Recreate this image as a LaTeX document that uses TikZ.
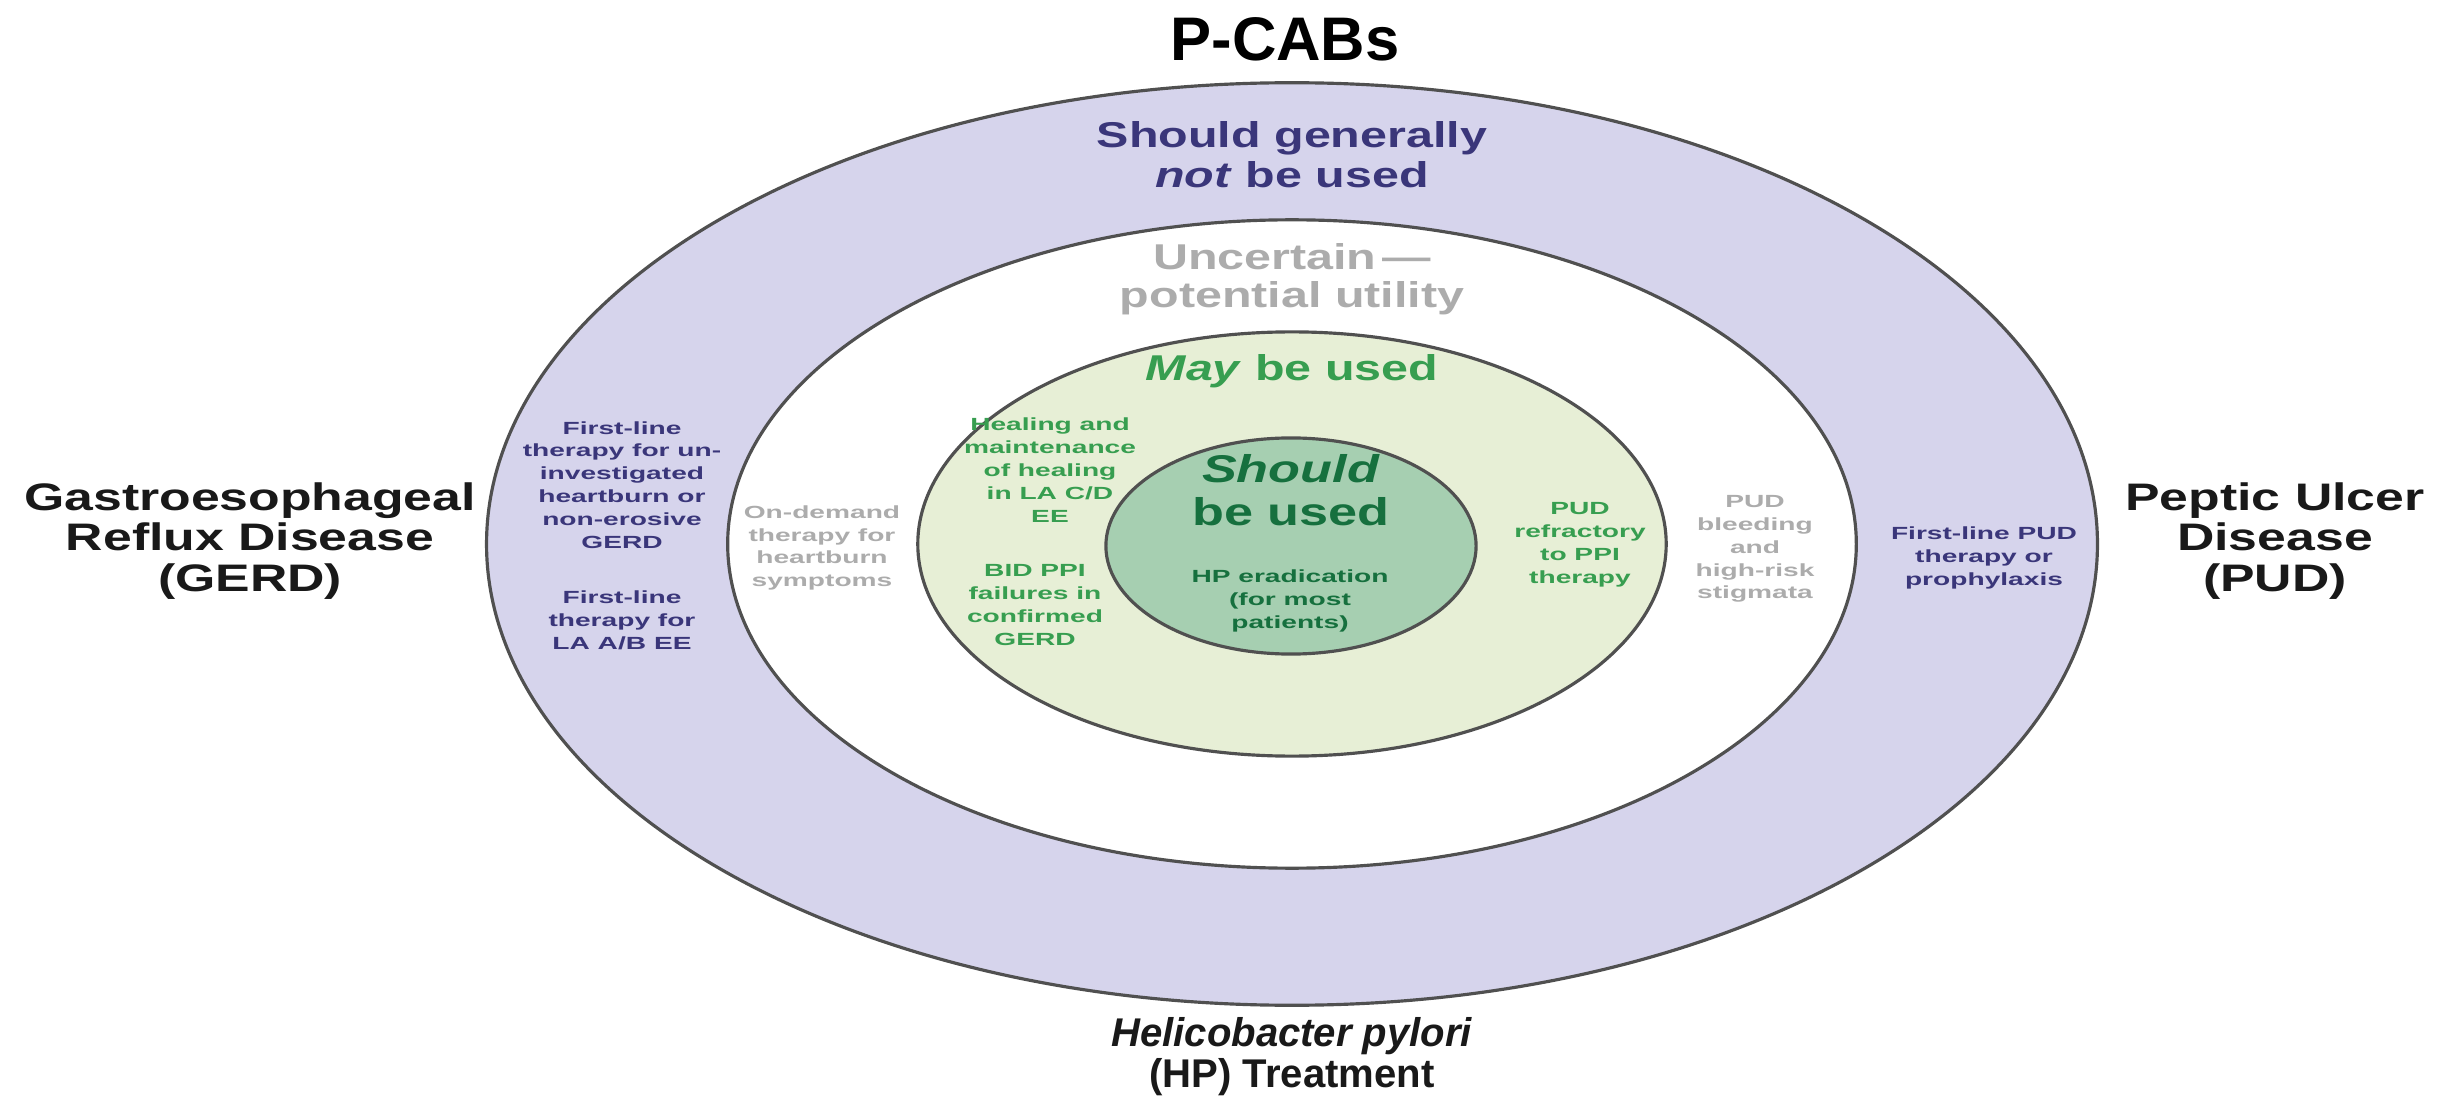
\documentclass[tikz,border=0pt]{standalone}
\usepackage{fontspec}
\setmainfont{Liberation Sans}[FakeStretch=1.35]
\newfontfamily\widetxt{Liberation Sans}[FakeStretch=1.6]
\newfontfamily\plaintxt{Liberation Sans}
\usepackage{xcolor}

\definecolor{ringpurple}{RGB}{214,212,236}
\definecolor{ringlight}{RGB}{231,239,214}
\definecolor{ringdark}{RGB}{166,207,177}
\definecolor{edgegrey}{RGB}{80,80,80}
\definecolor{txtpurple}{RGB}{58,54,122}
\definecolor{txtgreen}{RGB}{55,158,80}
\definecolor{txtdark}{RGB}{22,112,62}
\definecolor{txtgrey}{RGB}{172,172,172}
\definecolor{txtblack}{RGB}{25,25,25}

\begin{document}
\begin{tikzpicture}[x=0.01cm, y=-0.01cm,
  ring/.style={draw=edgegrey, line width=0.9pt},
  side/.style={align=center, text=txtblack, font=\bfseries\fontsize{10.9}{11.6}\selectfont},
  zone/.style={align=center, font=\bfseries\fontsize{10.2}{11.4}\selectfont},
  small/.style={align=center, inner sep=0pt, font=\widetxt\bfseries\fontsize{5.0}{6.5}\selectfont}]

 \useasboundingbox (0,0) rectangle (2456,1097);
 \fill [white] (0,0) rectangle (2456,1097);

 % the four rings
 \coordinate (centre) at (1292,544);
 \draw [ring, fill=ringpurple] (centre) ellipse [x radius=8.05cm, y radius=4.61cm];
 \draw [ring, fill=white] (centre) ellipse [x radius=5.64cm, y radius=3.24cm];
 \draw [ring, fill=ringlight] (centre) ellipse [x radius=3.74cm, y radius=2.12cm];
 \draw [ring, fill=ringdark] (1291,546) ellipse [x radius=1.85cm, y radius=1.08cm];


 \node (title) at (1285,39)
     {\plaintxt\bfseries\fontsize{17.5}{20}\selectfont P-CABs};

 \node [side] (gerd) at (250,541)
     {Gastroesophageal\\Reflux Disease\\(GERD)};

 \node [side] (pud) at (2275,541)
     {Peptic Ulcer\\Disease\\(PUD)};

 \node [side, font=\plaintxt\bfseries\fontsize{11.4}{11.6}\selectfont] (hp_treat) at (1292,1057)
     {\textit{Helicobacter pylori}\\(HP) Treatment};


 \node [zone, text=txtpurple] (not_used) at (1292,155)
     {Should generally\\\textit{not} be used};

 \node [zone, text=txtgrey, font=\bfseries\fontsize{10.2}{10.8}\selectfont] (uncertain) at (1292,279)
     {Uncertain\,---\\potential utility};

 \node [zone, text=txtgreen] (may_used) at (1292,371)
     {\textit{May} be used};

 \node [zone, text=txtdark, font=\bfseries\fontsize{11}{12.2}\selectfont] (should_used) at (1291,490)
     {\textit{Should}\\be used};


 \node [small, text=txtpurple] (gerd_first) at (622,485)
     {First-line\\therapy for un-\\investigated\\heartburn or\\non-erosive\\GERD};

 \node [small, text=txtpurple] (gerd_laab) at (622,620)
     {First-line\\therapy for\\LA A/B EE};

 \node [small, text=txtpurple] (pud_first) at (1984,558)
     {First-line PUD\\therapy or\\prophylaxis};

 \node [small, text=txtgrey] (on_demand) at (822,548)
     {On-demand\\therapy for\\heartburn\\symptoms};

 \node [small, text=txtgrey] (pud_bleed) at (1755,549)
     {PUD\\bleeding\\and\\high-risk\\stigmata};

 \node [small, text=txtgreen] (healing) at (1050,470)
     {Healing and\\maintenance\\of healing\\in LA C/D\\EE};

 \node [small, text=txtgreen] (bid_ppi) at (1035,605)
     {BID PPI\\failures in\\confirmed\\GERD};

 \node [small, text=txtgreen] (pud_refr) at (1580,545)
     {PUD\\refractory\\to PPI\\therapy};

 \node [small, text=txtdark] (hp_erad) at (1290,601)
     {HP eradication\\(for most\\patients)};


 \end{tikzpicture}
\end{document}
